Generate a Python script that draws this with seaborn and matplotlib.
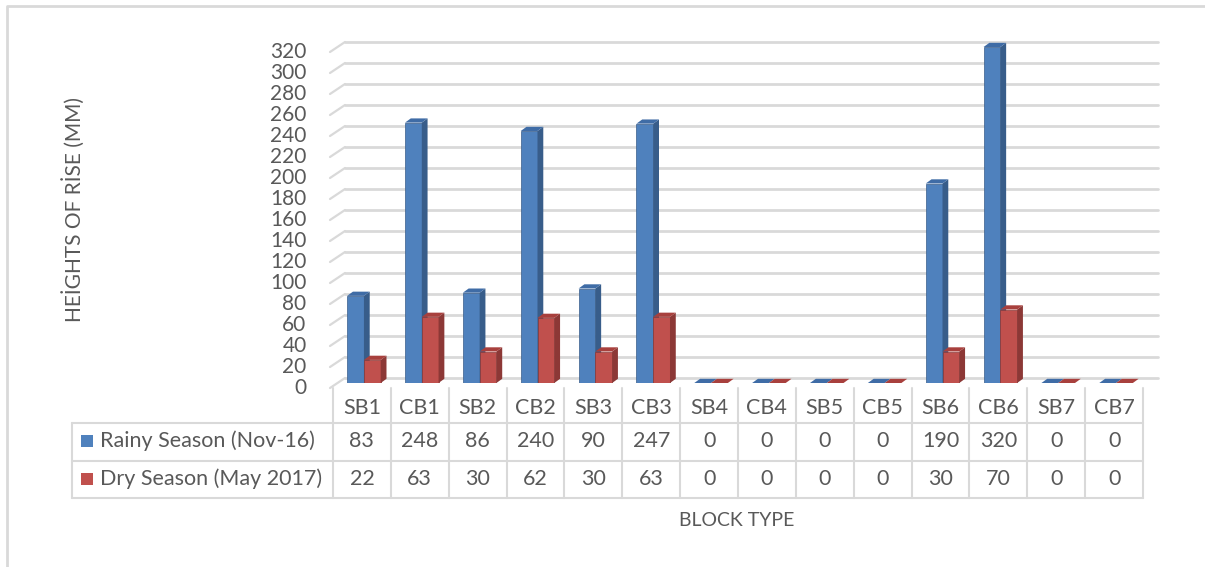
import pandas as pd
import matplotlib.pyplot as plt
import matplotlib.transforms as mtransforms
from matplotlib.patches import Polygon, Rectangle
import seaborn as sns

blocks = ['SB1', 'CB1', 'SB2', 'CB2', 'SB3', 'CB3', 'SB4', 'CB4',
          'SB5', 'CB5', 'SB6', 'CB6', 'SB7', 'CB7']
rainy = [83, 248, 86, 240, 90, 247, 0, 0, 0, 0, 190, 320, 0, 0]
dry = [22, 63, 30, 62, 30, 63, 0, 0, 0, 0, 30, 70, 0, 0]
series = ['Rainy Season (Nov-16)', 'Dry Season (May 2017)']
yticks = list(range(0, 321, 20))

colors = ['#4F81BD', '#C0504D']
side_colors = ['#385D8A', '#8C3836']
top_colors = ['#3F6CA6', '#A8403D']
grey = '#595959'
line_grey = '#D9D9D9'

sns.set_style('white')
plt.rcParams['font.family'] = ['Lato', 'DejaVu Sans']

df = pd.DataFrame({
    'Block': blocks * 2,
    'Height': rainy + dry,
    'Season': [series[0]] * len(blocks) + [series[1]] * len(blocks),
})

W, H = 1205, 567
fig = plt.figure(figsize=(W / 100, H / 100), dpi=100)

# overlay in pixel coords for table / border / labels
ov = fig.add_axes([0, 0, 1, 1], zorder=-1)
ov.set_xlim(0, W)
ov.set_ylim(H, 0)
ov.axis('off')

ax = fig.add_axes([335 / W, 1 - 383 / H, 810 / W, 336 / H])
sns.barplot(data=df, x='Block', y='Height', hue='Season', palette=colors,
            width=0.58, saturation=1, legend=False, ax=ax)
ax.set_xlim(-0.5, len(blocks) - 0.5)
ax.set_ylim(0, 320)
ax.set_facecolor('none')
for s in ax.spines.values():
    s.set_visible(False)
ax.set_xlabel('')
ax.set_ylabel('')
ax.set_xticks([])
ax.set_yticks(yticks)
ax.tick_params(axis='y', length=0, pad=19, labelsize=15, labelcolor=grey)
shift = mtransforms.ScaledTranslation(-2 / 100, -3 / 100, fig.dpi_scale_trans)
for lab in ax.get_yticklabels():
    lab.set_transform(lab.get_transform() + shift)

# 3D-ish gridlines with diagonal stubs
up = mtransforms.ScaledTranslation(0, 5 / 100, fig.dpi_scale_trans)
ytr = ax.get_yaxis_transform()
x_back = 10 / 810
for v in yticks:
    ax.plot([x_back, 823 / 810], [v, v], transform=ytr + up, color=line_grey,
            lw=2, clip_on=False, zorder=0.5, solid_capstyle='round')
    y_px = H - ax.transData.transform((0, v))[1]
    ov.plot([330, 345], [y_px + 5, y_px - 5], color=line_grey, lw=1.6)

# 3D faces on bars
dx, dy = 0.1, 4.0
bars = [p for p in ax.patches if isinstance(p, Rectangle)]
n = len(blocks)
for i, p in enumerate(bars):
    k = 0 if i < n else 1
    p.set_zorder(2 + 2 * k)
    p.set_edgecolor(side_colors[k])
    p.set_linewidth(0.5)
    x0 = p.get_x()
    x1 = x0 + p.get_width()
    h = p.get_height()
    side = Polygon([(x1, 0), (x1 + dx, dy), (x1 + dx, h + dy), (x1, h)],
                   closed=True, facecolor=side_colors[k], edgecolor='none',
                   zorder=2.5 + 2 * k, clip_on=False)
    top = Polygon([(x0, h), (x1, h), (x1 + dx, h + dy), (x0 + dx, h + dy)],
                  closed=True, facecolor=top_colors[k], edgecolor='none',
                  zorder=2.5 + 2 * k, clip_on=False)
    ax.add_patch(side)
    ax.add_patch(top)

# data table
left, right = 72, 1143
cat_w = (right - 333) / n
row_y = [423, 461, 498]
lw = 1.5
for yy in row_y:
    ov.plot([left, right], [yy, yy], color=line_grey, lw=lw)
ov.plot([left, left], [row_y[0], row_y[2]], color=line_grey, lw=lw)
for j in range(n + 1):
    xx = 333 + j * cat_w
    ov.plot([xx, xx], [388, row_y[2]], color=line_grey, lw=lw)
fs = 15.5
for j, b in enumerate(blocks):
    cx = 333 + (j + 0.5) * cat_w
    ov.text(cx, 408, b, ha='center', va='center', fontsize=fs, color=grey)
    ov.text(cx, 441, str(rainy[j]), ha='center', va='center', fontsize=fs, color=grey)
    ov.text(cx, 479, str(dry[j]), ha='center', va='center', fontsize=fs, color=grey)
for r, (name, c) in enumerate(zip(series, colors)):
    yc = 441 + r * 38
    ov.add_patch(Rectangle((81, yc - 6), 12, 12, facecolor=c, edgecolor='none'))
    ov.text(100, yc, name, ha='left', va='center', fontsize=fs, color=grey)

# axis titles
ov.text(73, 210, 'HEİGHTS OF RİSE (MM)', rotation=90, ha='center', va='center',
        fontsize=15, color=grey)
ov.text(737, 521, 'BLOCK TYPE', ha='center', va='center', fontsize=14, color=grey)

# chart border
ov.plot([7, 7, W + 5], [H + 5, 5.5, 5.5], color=line_grey, lw=2)

fig.savefig('out.png', dpi=100)
